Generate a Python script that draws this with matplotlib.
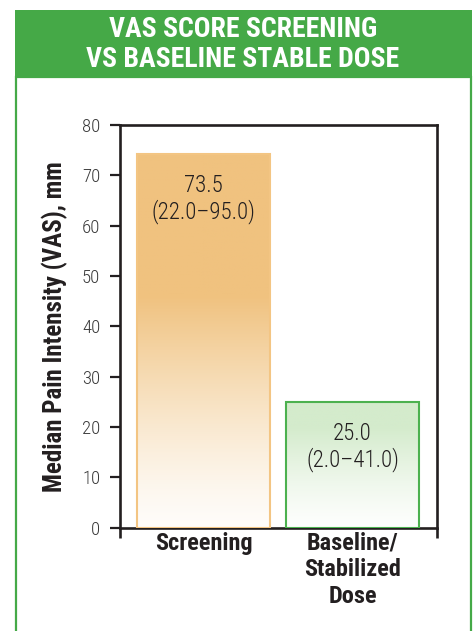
import matplotlib
matplotlib.use("Agg")
import matplotlib.pyplot as plt
import numpy as np
from matplotlib.patches import Rectangle
from matplotlib.colors import to_rgb

plt.rcParams['font.family'] = ['Roboto Condensed', 'Asap Condensed', 'Liberation Sans Narrow', 'DejaVu Sans']

# data
categories = ['Screening', 'Baseline/\nStabilized\nDose']
bar_heights = [74.2, 25.0]
medians = ['73.5', '25.0']
ranges = ['(22.0\u201395.0)', '(2.0\u201341.0)']
yticks = [0, 10, 20, 30, 40, 50, 60, 70, 80]

title = 'VAS SCORE SCREENING\nVS BASELINE STABLE DOSE'
ylabel = 'Median Pain Intensity (VAS), mm'

W, H = 475, 631
green = '#45a947'
ink = '#231f20'


def fx(px):
    return px / W


def fy(py):
    return 1 - py / H


fig = plt.figure(figsize=(W / 100, H / 100), dpi=100)

# green header and frame
fig.patches.append(Rectangle((fx(16), fy(700)), fx(471) - fx(16), fy(77) - fy(700),
                             transform=fig.transFigure, facecolor='white',
                             edgecolor=green, linewidth=1.6, zorder=-10))
fig.patches.append(Rectangle((fx(15), fy(77)), fx(472) - fx(15), fy(10) - fy(77),
                             transform=fig.transFigure, facecolor=green,
                             edgecolor='none', zorder=-9))
fig.text(fx(243), fy(44.5), title, ha='center', va='center', color='white',
         fontsize=20, fontweight='bold', linespacing=1.12)

ax = fig.add_axes([fx(120), fy(527.7), fx(437) - fx(120), fy(125) - fy(527.7)])
ax.patch.set_alpha(0)

x = np.arange(len(categories))
width = 0.89
ax.set_xlim(-0.56, 1.567)
ax.set_ylim(0, 80)

fills = [to_rgb('#f0c27f'), to_rgb('#d4ebcc')]
edges = ['#f3c583', '#4cb14f']
fade = [0.62, 0.8]

for i in range(len(categories)):
    bars = ax.bar(x[i], bar_heights[i], width, facecolor='none',
                  edgecolor=edges[i], linewidth=1.5, zorder=3)
    b = bars[0]
    # vertical gradient, white at the bottom
    t = np.linspace(0, 1, 256)[:, None]
    f = np.clip(t / fade[i], 0, 1) ** 1.3
    f = 0.04 + 0.96 * f
    col = np.ones((256, 1, 3)) * (1 - f[..., None]) + np.array(fills[i]) * f[..., None]
    im = ax.imshow(col, extent=[b.get_x(), b.get_x() + b.get_width(), 0, b.get_height()],
                   origin='lower', aspect='auto', zorder=2)
    im.set_clip_path(b)
    ax.text(x[i], bar_heights[i] - 4.0, medians[i] + '\n' + ranges[i],
            ha='center', va='top', fontsize=16.5, color=ink, linespacing=1.1,
            fontweight='light', zorder=4)

for s in ['left', 'bottom', 'top', 'right']:
    ax.spines[s].set_linewidth(1.9)
    ax.spines[s].set_color(ink)

ax.set_yticks(yticks)
ax.tick_params(axis='y', direction='out', length=7.2, width=1.6, color=ink,
               pad=7, labelsize=13.5, labelcolor='#3a3a3a')
for lab in ax.get_yticklabels():
    lab.set_fontweight('light')
ax.set_xticks(x)
ax.set_xticklabels(categories, fontsize=17.5, fontweight='bold', color=ink,
                   linespacing=1.2)
ax.tick_params(axis='x', which='major', length=0, pad=3)
ax.set_xticks([-0.56, 1.567], minor=True)
ax.tick_params(axis='x', which='minor', direction='out', length=7.2, width=1.9, color=ink)

ax.set_ylabel(ylabel, fontsize=18, fontweight='bold', color=ink)
ax.yaxis.set_label_coords(-0.165, 0.5)

fig.savefig('out.png', dpi=100)
